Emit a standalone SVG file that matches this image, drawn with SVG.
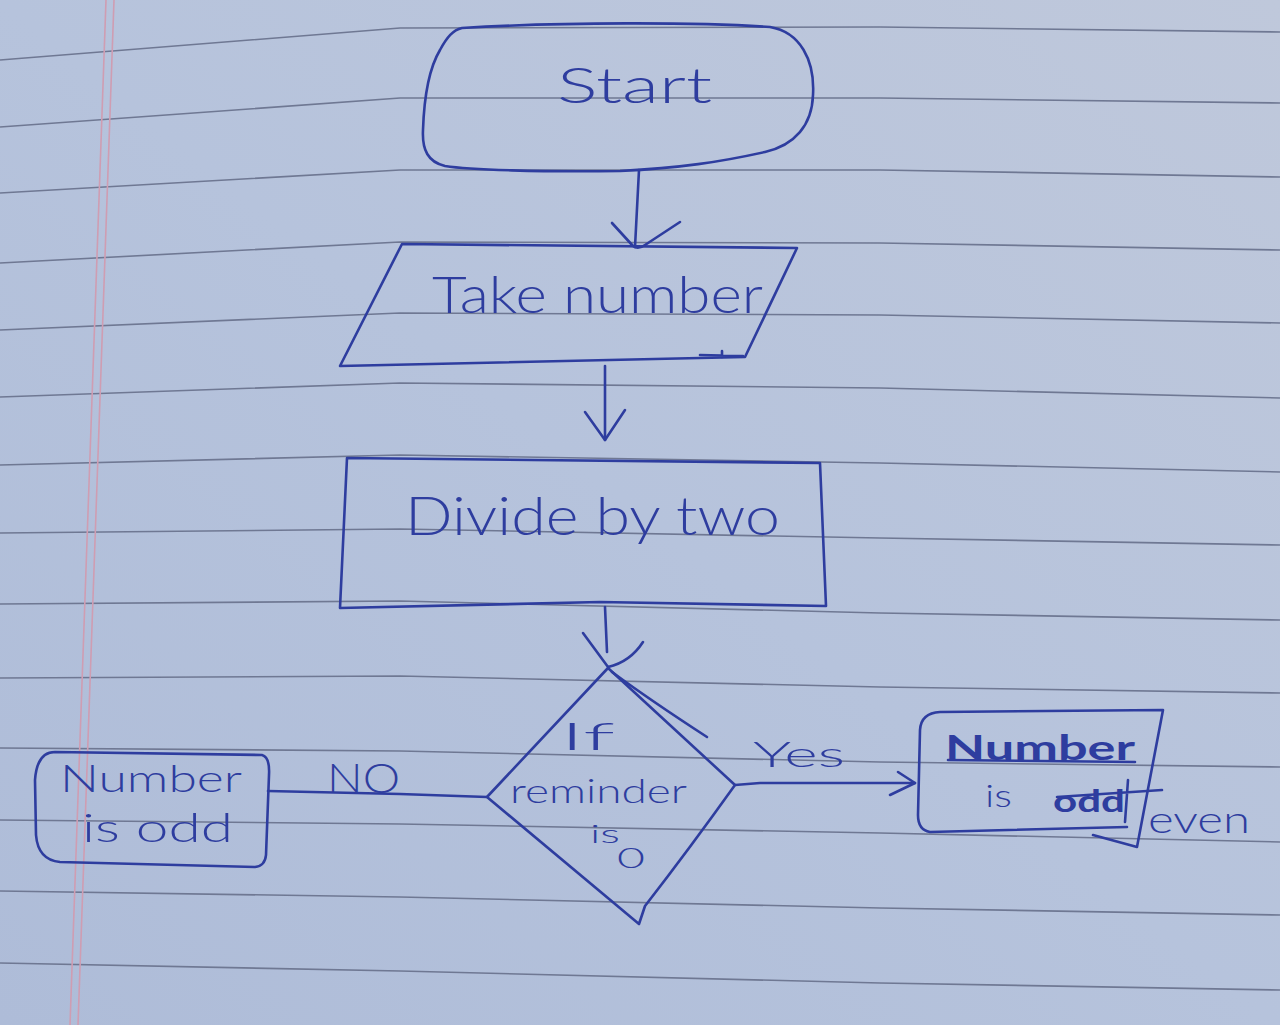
<svg xmlns="http://www.w3.org/2000/svg" width="1280" height="1025" viewBox="0 0 1280 1025">
  <defs>
    <linearGradient id="paper" x1="1" y1="0" x2="0" y2="1">
      <stop offset="0" stop-color="#bfc8db"/>
      <stop offset="0.5" stop-color="#b6c3dc"/>
      <stop offset="1" stop-color="#aebcd8"/>
    </linearGradient>
    <style>
      .rule { fill: none; stroke: #6f7893; stroke-width: 1.6; stroke-linejoin: round; }
      .margin { fill: none; stroke: #cf9db2; stroke-width: 1.6; }
      .ink { fill: none; stroke: #2e3d9f; stroke-width: 2.6; stroke-linecap: round; stroke-linejoin: round; }
      .label { fill: #2e3d9f; font-family: Lato, "Open Sans", "DejaVu Sans", sans-serif; font-weight: 300; }
      .scribbled { font-weight: 700; }
    </style>
  </defs>

  <!-- ruled notebook page -->
  <g id="paper-sheet">
    <rect width="1280" height="1025" fill="url(#paper)"/>
    <g id="rules">
      <polyline class="rule" points="0,60 400,28 880,27 1280,32"/>
      <polyline class="rule" points="0,127 400,98 880,98 1280,103"/>
      <polyline class="rule" points="0,193 400,170 880,170 1280,177"/>
      <polyline class="rule" points="0,263 400,242 880,243 1280,250"/>
      <polyline class="rule" points="0,330 400,313 880,315 1280,323"/>
      <polyline class="rule" points="0,397 400,383 880,388 1280,398"/>
      <polyline class="rule" points="0,465 400,455 880,463 1280,472"/>
      <polyline class="rule" points="0,533 400,529 880,538 1280,545"/>
      <polyline class="rule" points="0,604 400,601 880,613 1280,620"/>
      <polyline class="rule" points="0,678 400,676 880,687 1280,693"/>
      <polyline class="rule" points="0,748 400,751 880,762 1280,767"/>
      <polyline class="rule" points="0,820 400,824 880,833 1280,842"/>
      <polyline class="rule" points="0,891 400,897 880,908 1280,915"/>
      <polyline class="rule" points="0,963 400,971 880,983 1280,990"/>
    </g>
    <g id="margin">
      <line class="margin" x1="106" y1="0" x2="70" y2="1025"/>
      <line class="margin" x1="114" y1="0" x2="78" y2="1025"/>
    </g>
  </g>

  <!-- flow connectors -->
  <g id="connectors">
    <!-- start to input -->
    <path class="ink" d="M639,170 L635,247"/>
    <path class="ink" d="M612,223 L633,246 Q638,250 645,245 L680,222"/>
    <!-- input to process -->
    <path class="ink" d="M605,366 L605,440"/>
    <path class="ink" d="M585,412 L605,440 L625,410"/>
    <!-- process to decision -->
    <path class="ink" d="M605,607 L607,652"/>
    <path class="ink" d="M583,633 L608,667 Q630,662 643,642"/>
    <path class="ink" d="M612,672 Q650,700 707,737"/>
    <!-- decision: no branch -->
    <path class="ink" d="M268,791 L400,794 L487,797"/>
    <text class="label" x="327" y="793" font-size="42" textLength="73" lengthAdjust="spacingAndGlyphs">NO</text>
    <!-- decision: yes branch -->
    <path class="ink" d="M735,785 L760,783 L915,783"/>
    <path class="ink" d="M898,772 L915,783 L890,795"/>
    <text class="label" x="753" y="767" font-size="36" textLength="92" lengthAdjust="spacingAndGlyphs">Yes</text>
  </g>

  <g id="start">
    <path class="ink" d="M462,28 C560,22 700,22 770,27 C800,32 815,60 813,95 C812,125 795,145 765,152 C720,162 680,168 620,171 C540,172 470,170 445,166 C428,162 422,150 423,130 C424,100 428,70 440,50 C447,37 453,30 462,28 Z"/>
    <text class="label" x="557" y="103" font-size="50" textLength="155" lengthAdjust="spacingAndGlyphs">Start</text>
  </g>

  <g id="take-number">
    <path class="ink" d="M402,244 L797,248 L745,357 L340,366 Z"/>
    <path class="ink" d="M700,355 L743,356 M722,351 L722,357"/>
    <text class="label" x="432" y="313" font-size="52" textLength="331" lengthAdjust="spacingAndGlyphs">Take number</text>
  </g>

  <g id="divide">
    <path class="ink" d="M347,458 L820,463 L826,606 L600,602 L340,608 Z"/>
    <text class="label" x="405" y="535" font-size="54" textLength="375" lengthAdjust="spacingAndGlyphs">Divide by two</text>
  </g>

  <g id="decision">
    <path class="ink" d="M608,668 L735,785 Q690,848 645,906 L639,924 L487,797 Z"/>
    <text class="label" x="560" y="750" font-size="38" textLength="55" lengthAdjust="spacingAndGlyphs">If</text>
    <text class="label" x="510" y="803" font-size="34" textLength="177" lengthAdjust="spacingAndGlyphs">reminder</text>
    <text class="label" x="590" y="843" font-size="26" textLength="30" lengthAdjust="spacingAndGlyphs">is</text>
    <text class="label" x="617" y="868" font-size="28" textLength="28" lengthAdjust="spacingAndGlyphs">0</text>
  </g>

  <g id="odd">
    <path class="ink" d="M55,752 L262,755 Q270,757 269,775 L266,855 Q265,866 255,867 L60,862 Q38,860 36,835 L35,780 Q37,752 55,752 Z"/>
    <text class="label" x="60" y="792" font-size="38" textLength="182" lengthAdjust="spacingAndGlyphs">Number</text>
    <text class="label" x="82" y="842" font-size="40" textLength="151" lengthAdjust="spacingAndGlyphs">is odd</text>
  </g>

  <g id="even">
    <path class="ink" d="M1127,827 L930,832 Q918,830 918,815 L920,730 Q921,713 940,712 L1163,710 L1137,847 L1093,835"/>
    <text class="label scribbled" x="945" y="760" font-size="34" textLength="190" lengthAdjust="spacingAndGlyphs">Number</text>
    <path class="ink" d="M948,760 L1135,762" stroke-width="3.2"/>
    <text class="label" x="985" y="807" font-size="32" textLength="27" lengthAdjust="spacingAndGlyphs">is</text>
    <text class="label scribbled" x="1053" y="812" font-size="30" textLength="72" lengthAdjust="spacingAndGlyphs">odd</text>
    <path class="ink" d="M1057,797 L1162,790 M1128,780 L1125,822"/>
    <text class="label" x="1148" y="833" font-size="38" textLength="102" lengthAdjust="spacingAndGlyphs">even</text>
  </g>
</svg>
